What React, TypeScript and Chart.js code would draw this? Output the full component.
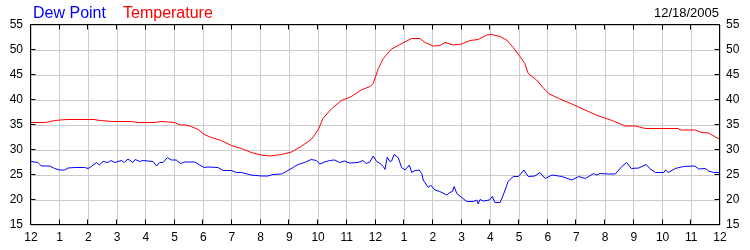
import React, { useEffect, useRef } from 'react';
import { Chart, registerables } from 'chart.js';

Chart.register(...registerables);

// Hours after midnight (0–24) and temperature readings (°F)
const tempHours = [
  0, 0.5, 0.83, 1.23, 2.2, 2.4, 2.86, 3.5, 3.73, 4.3, 4.53, 4.8, 5.0, 5.2, 5.4, 5.58, 5.82, 6.03,
  6.28, 6.63, 6.98, 7.33, 7.67, 8.02, 8.31, 8.72, 9.07, 9.41, 9.76, 10.0, 10.17, 10.46, 10.81,
  11.16, 11.5, 11.81, 11.92, 12.1, 12.27, 12.56, 12.85, 13.26, 13.55, 13.72, 14.01, 14.24, 14.42,
  14.71, 15.0, 15.29, 15.58, 15.87, 16.05, 16.34, 16.57, 16.8, 17.03, 17.2, 17.32, 17.61, 17.8,
  18.03, 18.38, 18.84, 19.3, 19.77, 20.24, 20.7, 21.05, 21.4, 22.56, 22.6, 23.14, 23.37, 23.6, 24.0,
];
const tempValues = [
  35.5, 35.5, 35.9, 36.1, 36.1, 35.9, 35.7, 35.7, 35.5, 35.5, 35.7, 35.6, 35.5, 35.0, 35.0, 34.7, 34.1, 33.1,
  32.5, 31.9, 30.9, 30.3, 29.5, 29.0, 28.8, 29.1, 29.6, 30.7, 32.1, 34.0, 36.3, 38.2, 39.9,
  40.7, 42.0, 42.7, 43.3, 46.3, 48.3, 50.2, 51.1, 52.3, 52.3, 51.5, 50.8, 50.9, 51.5,
  51.0, 51.2, 51.9, 52.1, 53.0, 53.1, 52.7, 52.0, 50.5, 48.7, 47.3, 45.3, 44.0, 42.7,
  41.3, 40.3, 39.2, 38.0, 36.8, 35.9, 34.8, 34.8, 34.3, 34.3, 34.0, 34.0, 33.5, 33.4, 32.1,
];

// Hours after midnight and dew point readings (°F)
const dewHours = [
  0, 0.24, 0.36, 0.65, 0.82, 1.0, 1.17, 1.29, 1.52, 1.87, 1.99, 2.1, 2.28, 2.38, 2.51, 2.68, 2.78,
  2.92, 3.15, 3.25, 3.38, 3.55, 3.63, 3.79, 3.9, 4.25, 4.37, 4.48, 4.6, 4.75, 4.89, 5.06, 5.21,
  5.35, 5.7, 5.88, 6.03, 6.16, 6.51, 6.69, 6.98, 7.15, 7.33, 7.67, 8.02, 8.25, 8.43, 8.72, 8.89,
  9.13, 9.3, 9.53, 9.76, 9.94, 10.06, 10.23, 10.4, 10.58, 10.75, 10.93, 11.1, 11.39, 11.56, 11.68,
  11.8, 11.92, 12.04, 12.16, 12.27, 12.33, 12.41, 12.5, 12.56, 12.65, 12.79, 12.91, 13.03, 13.18,
  13.26, 13.38, 13.52, 13.61, 13.66, 13.84, 13.92, 14.07, 14.24, 14.48, 14.59, 14.68, 14.74, 14.83,
  15.0, 15.18, 15.41, 15.53, 15.58, 15.64, 15.76, 15.97, 16.07, 16.16, 16.34, 16.45, 16.62, 16.8,
  16.98, 17.17, 17.32, 17.55, 17.73, 17.91, 18.15, 18.49, 18.84, 19.08, 19.31, 19.6, 19.7, 19.83,
  20.12, 20.35, 20.58, 20.75, 20.91, 21.17, 21.43, 21.55, 21.75, 22.04, 22.1, 22.2, 22.44, 22.73,
  23.12, 23.26, 23.49, 23.6, 23.78, 24.0,
];
const dewValues = [
  27.7, 27.5, 26.8, 26.8, 26.3, 26.0, 26.0, 26.4, 26.5, 26.5, 26.3, 26.7, 27.5, 27.0, 27.7, 27.5, 27.9,
  27.5, 27.9, 27.5, 28.2, 27.5, 28.1, 27.7, 27.9, 27.7, 26.8, 27.5, 27.5, 28.5, 28.0, 28.0, 27.3,
  27.6, 27.6, 27.0, 26.5, 26.6, 26.5, 25.9, 25.9, 25.5, 25.5, 25.0, 24.8, 24.8, 25.1, 25.2, 25.7,
  26.5, 27.1, 27.5, 28.1, 27.9, 27.2, 27.6, 27.9, 28.0, 27.5, 27.8, 27.4, 27.5, 27.9, 27.3,
  27.6, 28.8, 27.7, 27.3, 26.7, 26.1, 28.6, 27.7, 27.8, 29.1, 28.5, 26.5, 26.0, 27.0,
  25.5, 25.9, 26.0, 25.3, 24.0, 22.5, 23.0, 22.0, 21.7, 21.0, 21.5, 21.7, 22.7, 21.3,
  20.5, 19.7, 19.7, 20.0, 19.2, 20.1, 19.8, 20.0, 20.7, 19.5, 19.5, 21.0, 23.7, 24.7,
  24.7, 26.0, 24.7, 24.8, 25.5, 24.3, 25.0, 24.7, 24.0, 24.7, 24.3, 25.3, 25.0, 25.3,
  25.2, 25.2, 26.7, 27.5, 26.3, 26.4, 27.1, 26.3, 25.5, 25.5, 26.0, 25.5, 26.3, 26.7,
  26.8, 26.2, 26.3, 25.8, 25.5, 25.5,
];

const hourLabels = [
  '12', '1', '2', '3', '4', '5', '6', '7', '8', '9', '10', '11',
  '12', '1', '2', '3', '4', '5', '6', '7', '8', '9', '10', '11', '12',
];
const yTickValues = [15, 20, 25, 30, 35, 40, 45, 50, 55];

const dewLabel = 'Dew Point';
const tempLabel = 'Temperature';
const dateLabel = '12/18/2005';

const FONT = '"Liberation Sans", Arial, sans-serif';

export default function App() {
  const ref = useRef<HTMLCanvasElement>(null);

  useEffect(() => {
    document.body.style.margin = '0';
    const canvas = ref.current!;

    const framePlugin = {
      id: 'frame',
      afterDatasetsDraw(chart: any) {
        const { ctx, chartArea } = chart;
        const l = Math.round(chartArea.left) - 0.5;
        const r = Math.round(chartArea.right) - 0.5;
        const t = Math.round(chartArea.top) - 0.5;
        const b = Math.round(chartArea.bottom) - 0.5;
        ctx.save();
        ctx.strokeStyle = '#000';
        ctx.lineWidth = 1;
        ctx.beginPath();
        ctx.rect(l, t, r - l, b - t);
        const xs = chart.scales.x;
        hourLabels.forEach((_, i) => {
          const px = Math.round(xs.getPixelForValue(i)) - 0.5;
          ctx.moveTo(px, t);
          ctx.lineTo(px, t + 5);
          ctx.moveTo(px, b);
          ctx.lineTo(px, b - 5);
        });
        const ys = chart.scales.y;
        yTickValues.forEach((v) => {
          const py = Math.round(ys.getPixelForValue(v)) - 0.5;
          ctx.moveTo(l, py);
          ctx.lineTo(l + 5, py);
          ctx.moveTo(r, py);
          ctx.lineTo(r - 5, py);
        });
        ctx.stroke();
        ctx.restore();
      },
      afterDraw(chart: any) {
        const { ctx } = chart;
        ctx.save();
        ctx.textBaseline = 'alphabetic';
        ctx.font = `16px ${FONT}`;
        ctx.textAlign = 'left';
        ctx.fillStyle = '#0000ff';
        ctx.fillText(dewLabel, 33, 18);
        ctx.fillStyle = '#ff0000';
        ctx.fillText(tempLabel, 123, 18);
        ctx.font = `13px ${FONT}`;
        ctx.textAlign = 'right';
        ctx.fillStyle = '#000';
        ctx.fillText(dateLabel, 719, 17);
        ctx.restore();
      },
    };

    const tickFont = { family: FONT, size: 12 };

    const chart = new Chart(canvas, {
      type: 'line',
      data: {
        datasets: [
          {
            label: dewLabel,
            data: dewHours.map((h, i) => ({ x: h, y: dewValues[i] })),
            borderColor: '#0000ff',
            borderWidth: 1,
            pointRadius: 0,
            tension: 0,
            fill: false,
            yAxisID: 'y',
          },
          {
            label: tempLabel,
            data: tempHours.map((h, i) => ({ x: h, y: tempValues[i] })),
            borderColor: '#ff0000',
            borderWidth: 1,
            pointRadius: 0,
            tension: 0,
            fill: false,
            yAxisID: 'y',
          },
        ],
      },
      options: {
        animation: false,
        responsive: false,
        layout: { padding: { top: 25, left: 0, right: 0, bottom: 0 } },
        plugins: { legend: { display: false }, tooltip: { enabled: false }, title: { display: false } },
        scales: {
          x: {
            type: 'linear',
            min: 0,
            max: 24,
            afterBuildTicks: (s: any) => {
              s.ticks = hourLabels.map((_, i) => ({ value: i }));
            },
            ticks: {
              autoSkip: false,
              maxRotation: 0,
              padding: 5,
              color: '#000',
              font: tickFont,
              callback: (v: any) => hourLabels[Math.round(Number(v))],
            },
            grid: { color: '#cccccc', drawTicks: false, lineWidth: 1 },
            border: { display: false },
            afterFit: (s: any) => {
              s.height = 25;
            },
          },
          y: {
            type: 'linear',
            position: 'left',
            min: 15,
            max: 55,
            afterBuildTicks: (s: any) => {
              s.ticks = yTickValues.map((v) => ({ value: v }));
            },
            ticks: { padding: 8, color: '#000', font: tickFont },
            grid: { color: '#cccccc', drawTicks: false, lineWidth: 1 },
            border: { display: false },
            afterFit: (s: any) => {
              s.width = 31;
            },
          },
          y2: {
            type: 'linear',
            position: 'right',
            min: 15,
            max: 55,
            afterBuildTicks: (s: any) => {
              s.ticks = yTickValues.map((v) => ({ value: v }));
            },
            ticks: { padding: 6, color: '#000', font: tickFont },
            grid: { drawOnChartArea: false, drawTicks: false },
            border: { display: false },
            afterFit: (s: any) => {
              s.width = 30;
            },
          },
        },
      },
      plugins: [framePlugin],
    });

    return () => chart.destroy();
  }, []);

  return (
    <div style={{ width: 750, height: 250 }}>
      <canvas ref={ref} width={750} height={250} style={{ display: 'block', width: 750, height: 250 }} />
    </div>
  );
}
